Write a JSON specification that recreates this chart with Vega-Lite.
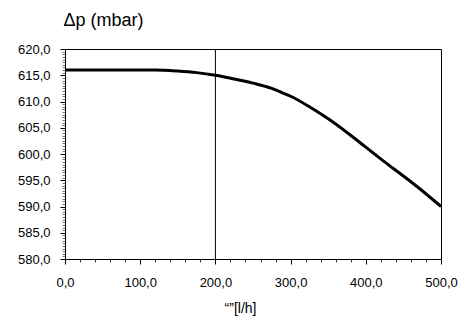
{
  "$schema": "https://vega.github.io/schema/vega-lite/v6.json",
  "autosize": "none",
  "width": 376,
  "height": 210,
  "padding": {"left": 65, "top": 49, "right": 28, "bottom": 64},
  "background": "white",
  "config": {
    "locale": {"number": {"decimal": ",", "thousands": ".", "grouping": [3], "currency": ["", " €"]}},
    "font": "Liberation Sans",
    "view": {"stroke": "#000", "strokeWidth": 1},
    "axis": {"labelFont": "Liberation Sans", "titleFont": "Liberation Sans", "labelColor": "#000", "titleColor": "#000", "titleFontWeight": "normal", "labelFlush": false}
  },
  "datasets": {
    "curve": [
      {"q": 0, "dp": 616.0},
      {"q": 50, "dp": 616.0},
      {"q": 100, "dp": 616.0},
      {"q": 120, "dp": 616.0},
      {"q": 150, "dp": 615.8},
      {"q": 175, "dp": 615.5},
      {"q": 200, "dp": 615.0},
      {"q": 225, "dp": 614.3},
      {"q": 250, "dp": 613.5},
      {"q": 275, "dp": 612.5},
      {"q": 290, "dp": 611.6},
      {"q": 300, "dp": 611.0},
      {"q": 325, "dp": 609.0},
      {"q": 350, "dp": 606.7},
      {"q": 375, "dp": 604.1},
      {"q": 400, "dp": 601.3},
      {"q": 425, "dp": 598.5},
      {"q": 450, "dp": 595.8},
      {"q": 475, "dp": 593.0},
      {"q": 500, "dp": 590.0}
    ],
    "marker": [{"q": 200}]
  },
  "resolve": {"axis": {"x": "independent", "y": "independent"}},
  "layer": [
    {
      "data": {"name": "curve"},
      "mark": {"type": "point", "opacity": 0},
      "encoding": {
        "x": {"field": "q", "type": "quantitative", "scale": {"domain": [0, 500], "nice": false},
          "axis": {"orient": "bottom", "values": [0,20,40,60,80,100,120,140,160,180,200,220,240,260,280,300,320,340,360,380,400,420,440,460,480,500], "labels": false, "grid": false, "domain": false, "ticks": true, "tickSize": 3, "tickWidth": 1, "tickColor": "#333", "title": null}},
        "y": {"field": "dp", "type": "quantitative", "scale": {"domain": [580, 620], "nice": false, "zero": false},
          "axis": {"orient": "left", "values": [580,580.5,581,581.5,582,582.5,583,583.5,584,584.5,585,585.5,586,586.5,587,587.5,588,588.5,589,589.5,590,590.5,591,591.5,592,592.5,593,593.5,594,594.5,595,595.5,596,596.5,597,597.5,598,598.5,599,599.5,600,600.5,601,601.5,602,602.5,603,603.5,604,604.5,605,605.5,606,606.5,607,607.5,608,608.5,609,609.5,610,610.5,611,611.5,612,612.5,613,613.5,614,614.5,615,615.5,616,616.5,617,617.5,618,618.5,619,619.5,620], "labels": false, "grid": false, "domain": false, "ticks": true, "tickSize": 3, "tickWidth": 1, "tickColor": "#777", "title": null}}
      }
    },
    {
      "data": {"name": "curve"},
      "mark": {"type": "line", "color": "#000", "strokeWidth": 3, "interpolate": "monotone"},
      "encoding": {
        "x": {"field": "q", "type": "quantitative", "scale": {"domain": [0, 500], "nice": false},
          "axis": {"orient": "bottom", "values": [0, 100, 200, 300, 400, 500], "format": ".1f", "labelFontSize": 13, "labelPadding": 12, "tickSize": 5, "tickColor": "#000", "domainColor": "#000", "gridColor": "#999", "gridWidth": 1, "title": "“”[l/h]", "titleFontSize": 14, "titlePadding": 12, "titleX": 175}},
        "y": {"field": "dp", "type": "quantitative", "scale": {"domain": [580, 620], "nice": false, "zero": false},
          "axis": {"orient": "left", "values": [580, 585, 590, 595, 600, 605, 610, 615, 620], "format": ".1f", "labelFontSize": 13, "labelPadding": 10, "tickSize": 5, "tickColor": "#000", "domainColor": "#000", "gridColor": "#999", "gridWidth": 1, "title": "Δp (mbar)", "titleFontSize": 18, "titleAngle": 0, "titleAlign": "left", "titleBaseline": "alphabetic", "titleX": -2, "titleY": -24}}
      }
    },
    {
      "data": {"name": "marker"},
      "mark": {"type": "rule", "color": "#000", "strokeWidth": 1},
      "encoding": {"x": {"field": "q", "type": "quantitative", "axis": null}}
    }
  ]
}
